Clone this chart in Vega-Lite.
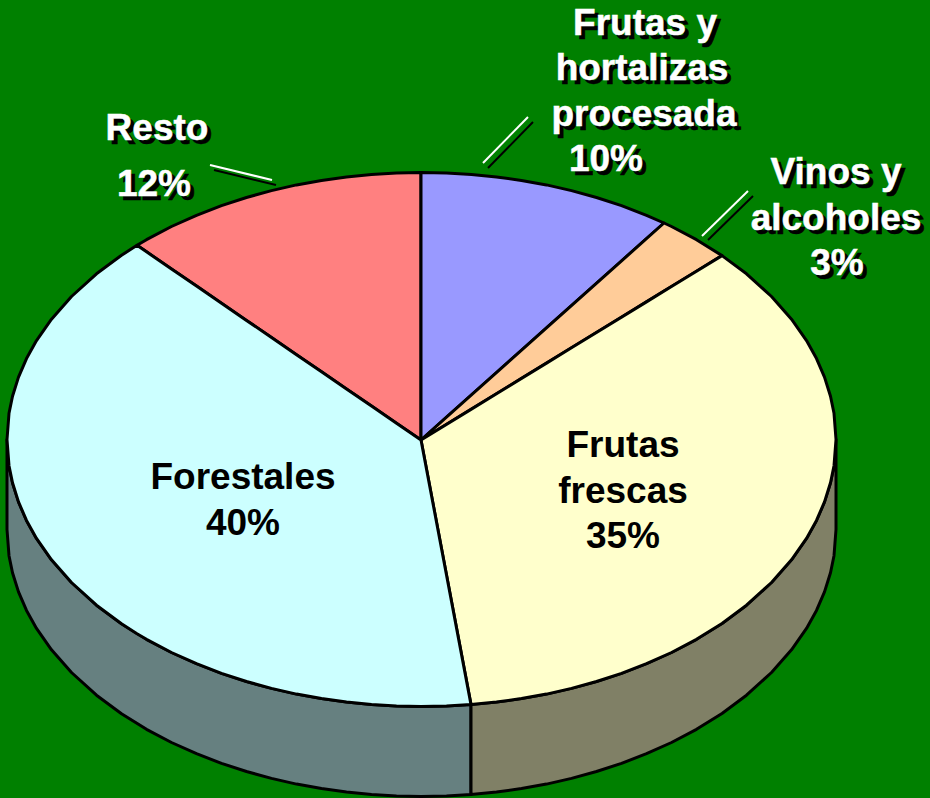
{
"$schema":"https://vega.github.io/schema/vega-lite/v6.json",
"width":930,"height":798,"padding":0,
"autosize":{"type":"fit","contains":"padding"},
"background":"#008000",
"view":{"stroke":null},
"datasets":{
"pie":[
{"p":"side1","x":7,"y":439.5,"y2":529.5},{"p":"side1","x":9,"y":465.7,"y2":555.7},{"p":"side1","x":12.5,"y":482.8,"y2":572.8},{"p":"side1","x":18.5,"y":501.9,"y2":591.9},{"p":"side1","x":26.5,"y":520.4,"y2":610.4},{"p":"side1","x":36.5,"y":538.4,"y2":628.4},{"p":"side1","x":51.5,"y":559.8,"y2":649.8},{"p":"side1","x":71.5,"y":582.5,"y2":672.5},{"p":"side1","x":96.5,"y":605.2,"y2":695.2},{"p":"side1","x":121.5,"y":623.7,"y2":713.7},{"p":"side1","x":146.5,"y":639.3,"y2":729.3},{"p":"side1","x":171.5,"y":652.5,"y2":742.5},{"p":"side1","x":196.5,"y":663.7,"y2":753.7},{"p":"side1","x":221.5,"y":673.4,"y2":763.4},{"p":"side1","x":246.5,"y":681.5,"y2":771.5},{"p":"side1","x":271.5,"y":688.4,"y2":778.4},{"p":"side1","x":296.5,"y":694.1,"y2":784.1},{"p":"side1","x":321.5,"y":698.6,"y2":788.6},{"p":"side1","x":346.5,"y":702.1,"y2":792.1},{"p":"side1","x":371.5,"y":704.6,"y2":794.6},{"p":"side1","x":396.5,"y":706,"y2":796},{"p":"side1","x":421,"y":706.5,"y2":796.5},{"p":"side1","x":446.5,"y":706,"y2":796},{"p":"side1","x":471,"y":704.6,"y2":794.6},
{"p":"side2","x":471,"y":704.6,"y2":794.6},{"p":"side2","x":496.5,"y":702.1,"y2":792.1},{"p":"side2","x":521.5,"y":698.6,"y2":788.6},{"p":"side2","x":546.5,"y":694.1,"y2":784.1},{"p":"side2","x":571.5,"y":688.4,"y2":778.4},{"p":"side2","x":596.5,"y":681.5,"y2":771.5},{"p":"side2","x":621.5,"y":673.4,"y2":763.4},{"p":"side2","x":646.5,"y":663.7,"y2":753.7},{"p":"side2","x":671.5,"y":652.5,"y2":742.5},{"p":"side2","x":696.5,"y":639.3,"y2":729.3},{"p":"side2","x":722,"y":623.5,"y2":713.5},{"p":"side2","x":746.5,"y":605.2,"y2":695.2},{"p":"side2","x":771.5,"y":582.5,"y2":672.5},{"p":"side2","x":791.5,"y":559.8,"y2":649.8},{"p":"side2","x":806.5,"y":538.4,"y2":628.4},{"p":"side2","x":816.5,"y":520.4,"y2":610.4},{"p":"side2","x":824.5,"y":501.9,"y2":591.9},{"p":"side2","x":830.5,"y":482.8,"y2":572.8},{"p":"side2","x":834,"y":465.7,"y2":555.7},{"p":"side2","x":836,"y":439.5,"y2":529.5},
{"p":"Resto","x":137,"y":245.3,"y2":245.3},{"p":"Resto","x":146.5,"y":239.7,"y2":251.8},{"p":"Resto","x":171.5,"y":226.5,"y2":269},{"p":"Resto","x":196.5,"y":215.3,"y2":286.1},{"p":"Resto","x":221.5,"y":205.6,"y2":303.2},{"p":"Resto","x":246.5,"y":197.5,"y2":320.4},{"p":"Resto","x":271.5,"y":190.6,"y2":337.5},{"p":"Resto","x":296.5,"y":184.9,"y2":354.7},{"p":"Resto","x":321.5,"y":180.4,"y2":371.8},{"p":"Resto","x":346.5,"y":176.9,"y2":388.9},{"p":"Resto","x":371.5,"y":174.4,"y2":406.1},{"p":"Resto","x":396.5,"y":173,"y2":423.2},{"p":"Resto","x":421,"y":172.5,"y2":440},
{"p":"Procesada","x":421,"y":172.5,"y2":440},{"p":"Procesada","x":446.5,"y":173,"y2":417.2},{"p":"Procesada","x":471.5,"y":174.4,"y2":394.9},{"p":"Procesada","x":496.5,"y":176.9,"y2":372.6},{"p":"Procesada","x":521.5,"y":180.4,"y2":350.3},{"p":"Procesada","x":546.5,"y":184.9,"y2":327.9},{"p":"Procesada","x":571.5,"y":190.6,"y2":305.6},{"p":"Procesada","x":596.5,"y":197.5,"y2":283.3},{"p":"Procesada","x":621.5,"y":205.6,"y2":261},{"p":"Procesada","x":646.5,"y":215.3,"y2":238.6},{"p":"Procesada","x":664,"y":223,"y2":223},
{"p":"Vinos","x":421,"y":440,"y2":440},{"p":"Vinos","x":664,"y":223,"y2":291.1},{"p":"Vinos","x":671.5,"y":226.5,"y2":286.5},{"p":"Vinos","x":696.5,"y":239.7,"y2":271.2},{"p":"Vinos","x":722,"y":255.6,"y2":255.6},
{"p":"Frescas","x":421,"y":440,"y2":440},{"p":"Frescas","x":471,"y":409.4,"y2":704.6},{"p":"Frescas","x":496.5,"y":393.7,"y2":702.1},{"p":"Frescas","x":521.5,"y":378.4,"y2":698.6},{"p":"Frescas","x":546.5,"y":363.1,"y2":694.1},{"p":"Frescas","x":571.5,"y":347.8,"y2":688.4},{"p":"Frescas","x":596.5,"y":332.5,"y2":681.5},{"p":"Frescas","x":621.5,"y":317.2,"y2":673.4},{"p":"Frescas","x":646.5,"y":301.9,"y2":663.7},{"p":"Frescas","x":671.5,"y":286.5,"y2":652.5},{"p":"Frescas","x":696.5,"y":271.2,"y2":639.3},{"p":"Frescas","x":722,"y":255.6,"y2":623.5},{"p":"Frescas","x":746.5,"y":273.8,"y2":605.2},{"p":"Frescas","x":771.5,"y":296.5,"y2":582.5},{"p":"Frescas","x":791.5,"y":319.2,"y2":559.8},{"p":"Frescas","x":806.5,"y":340.6,"y2":538.4},{"p":"Frescas","x":816.5,"y":358.6,"y2":520.4},{"p":"Frescas","x":824.5,"y":377.1,"y2":501.9},{"p":"Frescas","x":830.5,"y":396.2,"y2":482.8},{"p":"Frescas","x":834,"y":413.3,"y2":465.7},{"p":"Frescas","x":836,"y":439.5,"y2":439.5},
{"p":"Forestales","x":7,"y":439.5,"y2":439.5},{"p":"Forestales","x":9,"y":413.3,"y2":465.7},{"p":"Forestales","x":12.5,"y":396.2,"y2":482.8},{"p":"Forestales","x":18.5,"y":377.1,"y2":501.9},{"p":"Forestales","x":26.5,"y":358.6,"y2":520.4},{"p":"Forestales","x":36.5,"y":340.6,"y2":538.4},{"p":"Forestales","x":51.5,"y":319.2,"y2":559.8},{"p":"Forestales","x":71.5,"y":296.5,"y2":582.5},{"p":"Forestales","x":96.5,"y":273.8,"y2":605.2},{"p":"Forestales","x":121.5,"y":255.3,"y2":623.7},{"p":"Forestales","x":137,"y":245.3,"y2":633.7},{"p":"Forestales","x":146.5,"y":251.8,"y2":639.3},{"p":"Forestales","x":171.5,"y":269,"y2":652.5},{"p":"Forestales","x":196.5,"y":286.1,"y2":663.7},{"p":"Forestales","x":221.5,"y":303.2,"y2":673.4},{"p":"Forestales","x":246.5,"y":320.4,"y2":681.5},{"p":"Forestales","x":271.5,"y":337.5,"y2":688.4},{"p":"Forestales","x":296.5,"y":354.7,"y2":694.1},{"p":"Forestales","x":321.5,"y":371.8,"y2":698.6},{"p":"Forestales","x":346.5,"y":388.9,"y2":702.1},{"p":"Forestales","x":371.5,"y":406.1,"y2":704.6},{"p":"Forestales","x":396.5,"y":423.2,"y2":706},{"p":"Forestales","x":421,"y":440,"y2":706.5},{"p":"Forestales","x":446.5,"y":575,"y2":706},{"p":"Forestales","x":471,"y":704.6,"y2":704.6}
],
"outer":[
{"t":"Frutas y","x":645,"y":35},{"t":"hortalizas","x":642,"y":80},{"t":"procesada","x":644,"y":126},{"t":"10%","x":606,"y":171},
{"t":"Vinos y","x":836,"y":184},{"t":"alcoholes","x":836,"y":230},{"t":"3%","x":837,"y":275},
{"t":"Resto","x":157,"y":140},{"t":"12%","x":154,"y":196}
],
"inner":[
{"t":"Forestales","x":243,"y":489},{"t":"40%","x":243,"y":535},
{"t":"Frutas","x":623,"y":457},{"t":"frescas","x":623,"y":503},{"t":"35%","x":623,"y":548}
],
"leadShadow":[
{"x":488,"y":168,"x2":533,"y2":122},{"x":708,"y":240,"x2":753,"y2":196},{"x":214,"y":170,"x2":276,"y2":185}
],
"leadWhite":[
{"x":483,"y":163,"x2":528,"y2":117},{"x":702,"y":236,"x2":748,"y2":191},{"x":210,"y":165,"x2":272,"y2":180}
]
},
"encoding":{
"x":{"field":"x","type":"quantitative","axis":null,"scale":{"domain":[0,930],"nice":false,"zero":false}},
"y":{"field":"y","type":"quantitative","axis":null,"scale":{"domain":[798,0],"nice":false,"zero":false}}
},
"layer":[
{"data":{"name":"pie"},
 "mark":{"type":"area","orient":"vertical","stroke":"black","strokeWidth":3,"strokeJoin":"round","opacity":1},
 "encoding":{
  "y":{"field":"y","type":"quantitative","stack":null,"axis":null,"scale":{"domain":[798,0],"nice":false,"zero":false}},
  "y2":{"field":"y2"},
  "fill":{"field":"p","type":"nominal","legend":null,"sort":null,
   "scale":{"domain":["side1","side2","Resto","Procesada","Vinos","Frescas","Forestales"],
            "range":["#668080","#808066","#FF8080","#9999FF","#FFCC99","#FFFFCC","#CCFFFF"]}}
 }},
{"data":{"name":"leadShadow"},"mark":{"type":"rule","color":"black","strokeWidth":2},
 "encoding":{"x2":{"field":"x2"},"y2":{"field":"y2"}}},
{"data":{"name":"leadWhite"},"mark":{"type":"rule","color":"white","strokeWidth":2},
 "encoding":{"x2":{"field":"x2"},"y2":{"field":"y2"}}},
{"data":{"name":"outer"},"mark":{"type":"text","font":"Liberation Sans","fontWeight":"bold","fontSize":37,"align":"center","baseline":"alphabetic","color":"black","stroke":"black","strokeWidth":0.5,"dx":4,"dy":4},
 "encoding":{"text":{"field":"t"}}},
{"data":{"name":"outer"},"mark":{"type":"text","font":"Liberation Sans","fontWeight":"bold","fontSize":37,"align":"center","baseline":"alphabetic","color":"white","stroke":"white","strokeWidth":0.5},
 "encoding":{"text":{"field":"t"}}},
{"data":{"name":"inner"},"mark":{"type":"text","font":"Liberation Sans","fontWeight":"bold","fontSize":37,"align":"center","baseline":"alphabetic","color":"black"},
 "encoding":{"text":{"field":"t"}}}
]
}
